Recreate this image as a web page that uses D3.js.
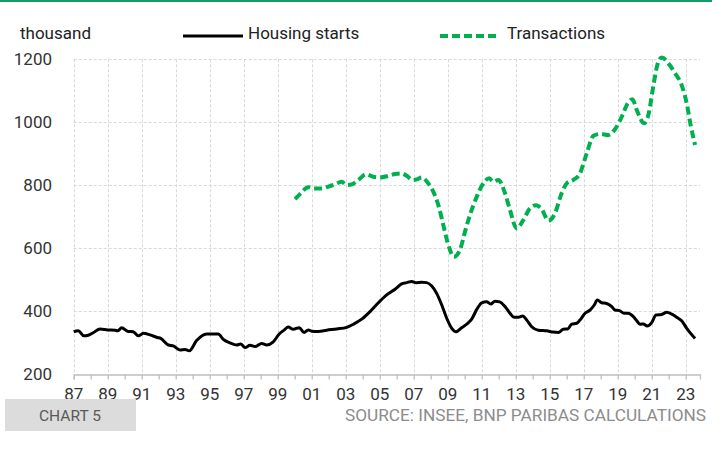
<meta charset="utf-8">
<script src="https://d3js.org/d3.v7.min.js"></script>
<style>
  body { margin: 0; background: #fff; }
  text { font-family: Roboto, "Noto Sans", sans-serif; }
</style>
<svg id="chart" width="724" height="465"></svg>
<script>
// Housing starts, thousand (3-month sum annualised style curve)
var hsYears = [1987.0, 1987.27, 1987.6, 1987.86, 1988.15, 1988.55, 1989.0, 1989.43, 1989.6, 1989.82,
  1990.2, 1990.5, 1990.8, 1991.1, 1991.49, 1991.92, 1992.12, 1992.57, 1992.86, 1993.25,
  1993.55, 1993.8, 1994.23, 1994.82, 1995.5, 1995.8, 1996.19, 1996.59, 1996.82, 1997.08,
  1997.37, 1997.67, 1998.06, 1998.35, 1998.74, 1999.09, 1999.39, 1999.62, 1999.92, 2000.27,
  2000.55, 2000.8, 2001.0, 2001.39, 2001.88, 2002.47, 2003.06, 2003.45, 2003.94, 2004.43,
  2004.92, 2005.41, 2005.9, 2006.29, 2006.59, 2006.88, 2007.14, 2007.47, 2007.76, 2008.06,
  2008.35, 2008.65, 2008.94, 2009.24, 2009.49, 2009.82, 2010.12, 2010.41, 2010.71, 2011.0,
  2011.29, 2011.53, 2011.78, 2012.06, 2012.37, 2012.66, 2012.9, 2013.15, 2013.41, 2013.65,
  2013.94, 2014.33, 2014.82, 2015.21, 2015.51, 2015.8, 2016.06, 2016.29, 2016.59, 2016.78,
  2017.08, 2017.37, 2017.62, 2017.8, 2018.06, 2018.35, 2018.65, 2018.84, 2019.1, 2019.37,
  2019.62, 2019.92, 2020.12, 2020.31, 2020.5, 2020.74, 2021.0, 2021.25, 2021.59, 2021.88,
  2022.18, 2022.47, 2022.76, 2023.06, 2023.29, 2023.55];
var hsValues = [335, 338, 322, 324, 332, 344, 341, 340, 338, 348,
  336, 335, 322, 330, 325, 317, 314, 293, 290, 277,
  279, 275, 307, 328, 328, 311, 300, 293, 296, 285,
  292, 288, 298, 293, 303, 328, 341, 350, 343, 348,
  333, 341, 337, 336, 340, 344, 349, 359, 375, 399,
  427, 452, 470, 487, 491, 495, 491, 492, 491, 480,
  457, 420, 378, 346, 335, 348, 359, 375, 406, 427,
  430, 423, 432, 430, 415, 394, 381, 381, 385, 372,
  351, 340, 338, 334, 333, 343, 344, 359, 362, 372,
  394, 404, 420, 436, 427, 425, 415, 404, 402, 394,
  394, 383, 370, 359, 360, 353, 364, 388, 390, 397,
  391, 381, 370, 346, 330, 314];

// Transactions, thousand
var trYears = [2000.02, 2000.31, 2000.8, 2001.09, 2001.59, 2001.98, 2002.37, 2002.76, 2003.06, 2003.35,
  2003.74, 2004.2, 2004.62, 2005.02, 2005.51, 2005.9, 2006.29, 2006.59, 2006.94, 2007.18,
  2007.47, 2007.86, 2008.15, 2008.45, 2008.74, 2009.04, 2009.37, 2009.72, 2010.02, 2010.31,
  2010.71, 2011.0, 2011.45, 2011.68, 2011.98, 2012.37, 2012.66, 2013.06, 2013.45, 2013.84,
  2014.2, 2014.53, 2014.92, 2015.31, 2015.7, 2016.0, 2016.39, 2016.78, 2017.18, 2017.57,
  2017.96, 2018.45, 2018.84, 2019.24, 2019.59, 2019.86, 2020.12, 2020.55, 2020.8, 2021.09,
  2021.33, 2021.59, 2021.98, 2022.37, 2022.76, 2023.06, 2023.29, 2023.55];
var trValues = [756, 772, 794, 790, 790, 796, 803, 811, 801, 803,
  817, 835, 827, 825, 830, 836, 838, 830, 817, 819,
  825, 806, 780, 737, 674, 610, 573, 595, 653, 706,
  764, 798, 822, 811, 817, 775, 722, 663, 690, 727,
  737, 724, 688, 711, 775, 806, 817, 838, 902, 957,
  963, 960, 978, 1018, 1060, 1073, 1039, 997, 1023, 1113,
  1182, 1206, 1187, 1156, 1118, 1060, 991, 928];

var yTicks = [200, 400, 600, 800, 1000, 1200];
var yearTicks = d3.range(1987, 2024);   // one small tick per year
var labelYears = d3.range(1987, 2024, 2); // labelled every other year

var svg = d3.select("#chart");

// top rule
svg.append("rect").attr("x", 0).attr("y", 0).attr("width", 712).attr("height", 2).attr("fill", "#139a66");

var x = d3.scaleLinear().domain([1987, 2023.84]).range([73.7, 700]);
var y = d3.scaleLinear().domain([200, 1200]).range([374.3, 59.3]);

// gridlines
svg.append("g").selectAll("line").data(yTicks.slice(1)).enter().append("line")
  .attr("x1", 73.7).attr("x2", 700)
  .attr("y1", d => Math.round(y(d)) + 0.5).attr("y2", d => Math.round(y(d)) + 0.5)
  .attr("stroke", "#d9d9d9").attr("stroke-dasharray", "3,2");

svg.append("g").selectAll("line").data(labelYears).enter().append("line")
  .attr("x1", d => Math.round(x(d)) + 0.5).attr("x2", d => Math.round(x(d)) + 0.5)
  .attr("y1", y(1200)).attr("y2", y(200))
  .attr("stroke", "#d9d9d9").attr("stroke-dasharray", "3,2");

// x axis
var xAxis = d3.axisBottom(x).tickValues(yearTicks).tickSize(5).tickFormat("");
var gx = svg.append("g").attr("transform", "translate(0," + (Math.round(y(200)) + 0.5) + ")").call(xAxis);
gx.select(".domain").attr("stroke", "#bfbfbf").attr("stroke-width", 1.3);
gx.selectAll(".tick line").attr("stroke", "#bfbfbf").attr("stroke-width", 1.3);

svg.append("g").selectAll("text").data(labelYears).enter().append("text")
  .attr("x", d => x(d)).attr("y", 400)
  .attr("text-anchor", "middle")
  .style("font-size", "17px").attr("fill", "#333")
  .text(d => d3.format("02d")(d % 100));

// y labels
svg.append("g").selectAll("text").data(yTicks).enter().append("text")
  .attr("x", 52).attr("y", d => y(d) + 6)
  .attr("text-anchor", "end")
  .style("font-size", "17px").attr("fill", "#333")
  .text(d => d);

// lines
var line = d3.line().x(d => x(d[0])).y(d => y(d[1])).curve(d3.curveMonotoneX);

svg.append("path").datum(d3.zip(trYears, trValues))
  .attr("d", line).attr("fill", "none")
  .attr("stroke", "#00b050").attr("stroke-width", 4)
  .attr("stroke-dasharray", "8,4");

svg.append("path").datum(d3.zip(hsYears, hsValues))
  .attr("d", line).attr("fill", "none")
  .attr("stroke", "#000").attr("stroke-width", 3)
  .attr("stroke-linejoin", "round");

// unit and legend
svg.append("text").attr("x", 20).attr("y", 39).text("thousand")
  .style("font-size", "17px").attr("fill", "#222");

svg.append("line").attr("x1", 183).attr("x2", 243).attr("y1", 36).attr("y2", 36)
  .attr("stroke", "#000").attr("stroke-width", 3);
svg.append("text").attr("x", 248).attr("y", 39).text("Housing starts")
  .style("font-size", "17px").attr("fill", "#222");

svg.append("line").attr("x1", 440).attr("x2", 500).attr("y1", 36).attr("y2", 36)
  .attr("stroke", "#00b050").attr("stroke-width", 4).attr("stroke-dasharray", "8,4");
svg.append("text").attr("x", 507).attr("y", 39).text("Transactions")
  .style("font-size", "17px").attr("fill", "#222");

// footer
svg.append("rect").attr("x", 5).attr("y", 399).attr("width", 131).attr("height", 32).attr("fill", "#dcdcdc");
svg.append("text").attr("x", 70).attr("y", 421).attr("text-anchor", "middle")
  .text("CHART 5").style("font-size", "15px").attr("fill", "#595959")
  .attr("textLength", 62).attr("lengthAdjust", "spacingAndGlyphs");
svg.append("text").attr("x", 706).attr("y", 421).attr("text-anchor", "end")
  .text("SOURCE: INSEE, BNP PARIBAS CALCULATIONS").style("font-size", "17px").attr("fill", "#8c8c8c")
  .attr("textLength", 361).attr("lengthAdjust", "spacingAndGlyphs");
</script>
